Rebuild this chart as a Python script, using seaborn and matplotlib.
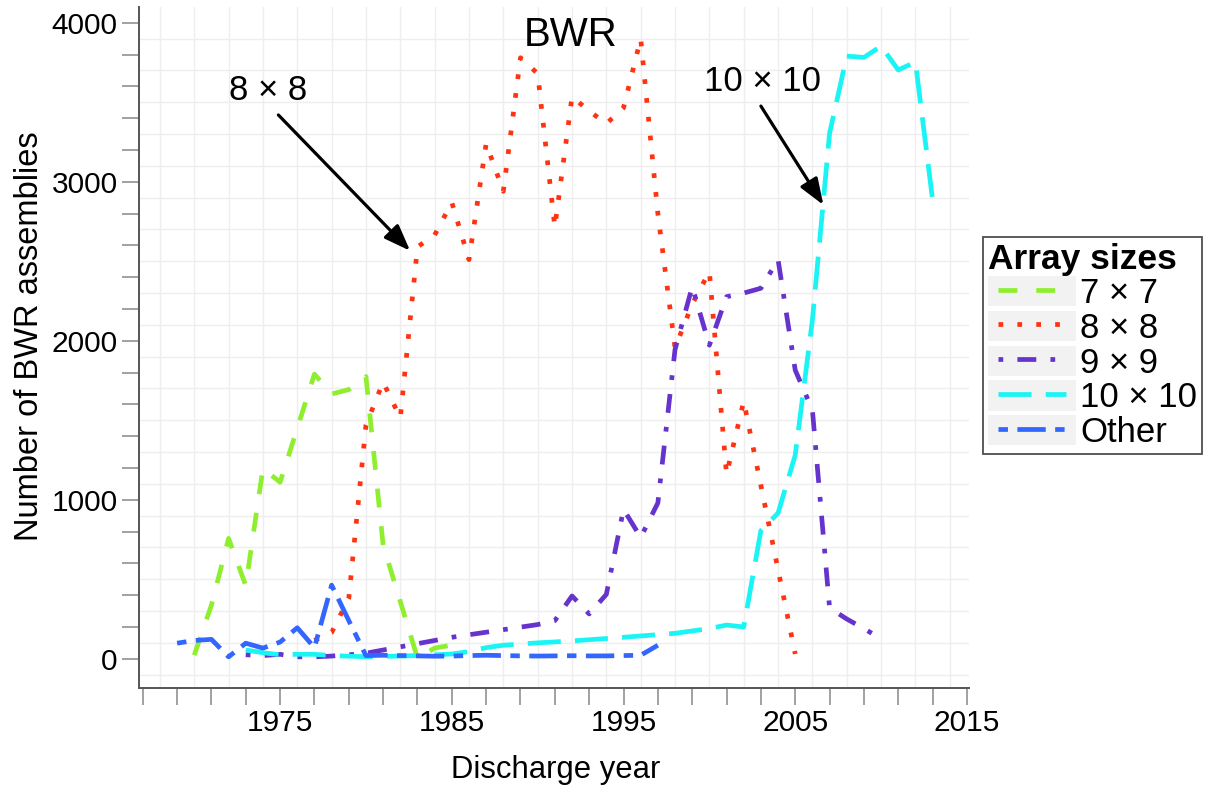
import numpy as np
import pandas as pd
import matplotlib
matplotlib.use("Agg")
import matplotlib.pyplot as plt
import seaborn as sns
from matplotlib.lines import Line2D
from matplotlib.patches import Patch
from matplotlib.legend_handler import HandlerTuple

# ---------------- data ----------------
sizes = ["7 × 7", "8 × 8", "9 × 9", "10 × 10", "Other"]

years_7x7 = [1970, 1971, 1972, 1973, 1974, 1975, 1976, 1977, 1978, 1979, 1980,
             1981, 1982, 1983, 1984, 1985]
counts_7x7 = [23, 337, 757, 460, 1198, 1110, 1450, 1790, 1665, 1693, 1775,
              715, 360, 5, 67, 86]

years_8x8 = [1977, 1978, 1979, 1980, 1981, 1982, 1983, 1984, 1985, 1986, 1987,
             1988, 1989, 1990, 1991, 1992, 1993, 1994, 1995, 1996, 1997, 1998,
             1999, 2000, 2001, 2002, 2003, 2004, 2005]
counts_8x8 = [115, 165, 380, 1470, 1740, 1515, 2590, 2665, 2870, 2510, 3240,
              2940, 3780, 3680, 2715, 3535, 3445, 3365, 3465, 3900, 2800, 1955,
              2230, 2435, 1160, 1620, 1090, 560, 30]

years_9x9 = [1973, 1974, 1975, 1976, 1977, 1978, 1979, 1980, 1985, 1990, 1991,
             1992, 1993, 1994, 1995, 1996, 1997, 1998, 1999, 2000, 2001, 2002,
             2003, 2004, 2005, 2006, 2007, 2008, 2009, 2010]
counts_9x9 = [25, 20, 28, 12, 12, 17, 25, 35, 135, 215, 240,
              395, 282, 405, 940, 763, 980, 1945, 2340, 1972, 2277, 2300,
              2330, 2510, 1815, 1565, 320, 250, 190, 125]

years_10x10 = [1973, 1974, 1975, 1976, 1977, 1978, 1979, 1980, 1981, 1982, 1983,
               1984, 1985, 1986, 1987, 1988, 1990, 1992, 1995, 1998, 2000, 2001,
               2002, 2003, 2004, 2005, 2006, 2007, 2008, 2009, 2010, 2011, 2012,
               2013]
counts_10x10 = [55, 38, 25, 28, 28, 20, 16, 13, 15, 17, 20,
                25, 30, 45, 70, 85, 100, 112, 135, 160, 190, 212,
                200, 806, 916, 1281, 2130, 3305, 3790, 3782, 3853, 3703, 3753,
                2885]

years_other = [1969, 1970, 1971, 1972, 1973, 1974, 1975, 1976, 1977, 1978, 1979,
               1980, 1981, 1982, 1983, 1984, 1985, 1986, 1987, 1988, 1989, 1990,
               1991, 1992, 1993, 1994, 1995, 1996, 1997]
counts_other = [98, 115, 122, 12, 98, 67, 105, 195, 70, 463, 240,
                20, 22, 20, 18, 16, 17, 20, 22, 20, 18, 17,
                18, 19, 18, 18, 20, 22, 85]

x_tick_labels = ["1975", "1985", "1995", "2005", "2015"]
y_tick_labels = ["0", "1000", "2000", "3000", "4000"]

# ---------------- styles ----------------
colors = ["#8FEF2F", "#FF3311", "#6633CC", "#1AF4F4", "#3366FF"]
dash_patterns = [(4, 4), (1, 3), (1, 3, 4, 3), (7, 3), (2, 2, 6, 2)]
LW = 3.4

sns.set_theme(style="white")
plt.rcParams["font.family"] = ["Liberation Sans", "DejaVu Sans"]
plt.rcParams["text.color"] = "black"
plt.rcParams["axes.labelcolor"] = "black"

W_PX, H_PX = 1211, 791
fig = plt.figure(figsize=(W_PX / 100, H_PX / 100), dpi=100)
left, right, top, bottom = 139.3, 969.0, 7.0, 687.7
ax = fig.add_axes([left / W_PX, 1 - bottom / H_PX,
                   (right - left) / W_PX, (bottom - top) / H_PX])

frames = []
for name, yrs, vals in zip(sizes,
                           [years_7x7, years_8x8, years_9x9, years_10x10, years_other],
                           [counts_7x7, counts_8x8, counts_9x9, counts_10x10, counts_other]):
    frames.append(pd.DataFrame({"year": yrs, "count": vals, "size": name}))
df = pd.concat(frames, ignore_index=True)

sns.lineplot(data=df, x="year", y="count", hue="size", style="size",
             hue_order=sizes, style_order=sizes,
             palette=dict(zip(sizes, colors)),
             dashes=dict(zip(sizes, dash_patterns)),
             linewidth=LW, estimator=None, sort=False, legend=False, ax=ax)

ax.set_xlim(1966.8, 2015.12)
ax.set_ylim(-182, 4099)

# ticks
xt = np.arange(1967, 2016, 2)
ax.set_xticks(xt)
ax.set_xticklabels([str(v) if str(v) in x_tick_labels else "" for v in xt])
yt = np.arange(0, 4001, 200)
ax.set_yticks(yt)
ax.set_yticklabels([str(v) if str(v) in y_tick_labels else "" for v in yt])
ax.set_xticks(np.arange(1968, 2015, 2), minor=True)
ax.set_yticks(np.arange(-100, 4000, 200), minor=True)
ax.tick_params(which="major", bottom=True, left=True, length=12, width=1.3,
               color="#9A9A9A", labelsize=21.5, pad=3.5, labelcolor="black")
ax.tick_params(which="minor", bottom=False, left=False, length=0)
ax.grid(False, which="major")
ax.grid(True, which="minor", color="#EEEEEE", linewidth=1.0)
ax.set_axisbelow(True)

for s in ["top", "right"]:
    ax.spines[s].set_visible(False)
for s in ["left", "bottom"]:
    ax.spines[s].set_color("#555555")
    ax.spines[s].set_linewidth(1.4)

ax.set_xlabel("")
ax.set_ylabel("")
fig.text(556 / W_PX, 1 - 770 / H_PX, "Discharge year", ha="center", va="center",
         fontsize=22.3, color="black")
fig.text(30 / W_PX, 1 - 336 / H_PX, "Number of BWR assemblies", ha="center",
         va="center", rotation=90, fontsize=23.5, color="black")

# title inside plot
ax.text(1991.9, 3925, "BWR", ha="center", va="center", fontsize=29, color="black")

# annotations
arrow_kw = dict(arrowstyle="-|>,head_length=0.8,head_width=0.3", color="black",
                lw=2.3, mutation_scale=20, shrinkA=0, shrinkB=0)
ax.text(1974.3, 3577, "8 × 8", ha="center", va="center", fontsize=25, color="black")
ax.annotate("", xy=(1982.57, 2566), xytext=(1974.9, 3420), arrowprops=arrow_kw)
ax.text(2003.07, 3633, "10 × 10", ha="center", va="center", fontsize=25, color="black")
ax.annotate("", xy=(2006.64, 2854), xytext=(2003.0, 3476), arrowprops=arrow_kw)

# legend
handles = [(Patch(facecolor="#F2F2F2", edgecolor="none"),
            Line2D([], [], color=c, lw=LW, dashes=d))
           for c, d in zip(colors, dash_patterns)]
leg = ax.legend(handles, sizes, handler_map={tuple: HandlerTuple(ndivide=1, pad=0)},
                loc="upper left", bbox_to_anchor=(982.7 / W_PX, 1 - 237.3 / H_PX),
                bbox_transform=fig.transFigure, borderaxespad=0,
                fontsize=25, title="Array sizes", numpoints=2,
                title_fontproperties={"weight": "bold", "size": 25.5},
                handlelength=2.55, handleheight=0.96, labelspacing=0.02,
                handletextpad=0.1, borderpad=0.15, frameon=True, fancybox=False,
                edgecolor="#222222", alignment="left")
leg.get_frame().set_linewidth(1.3)
for t in leg.get_texts():
    t.set_color("black")
leg.get_title().set_color("black")

fig.savefig("out.png", dpi=100)
